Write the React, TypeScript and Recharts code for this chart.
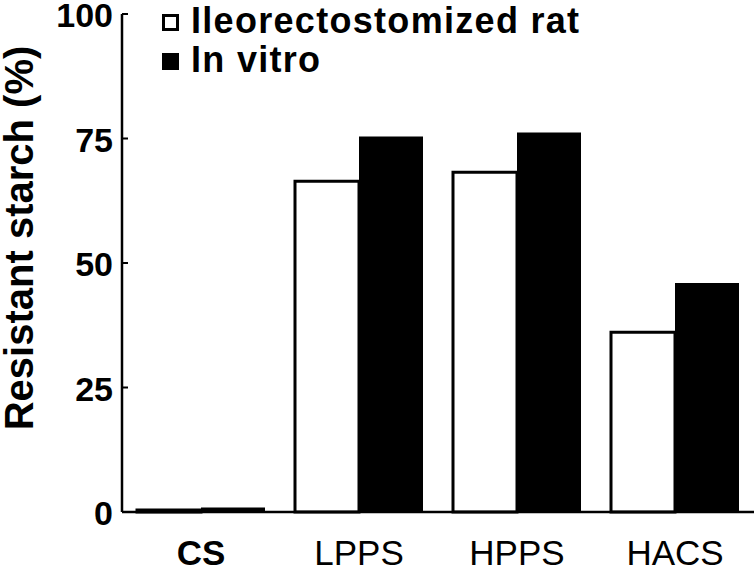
import { BarChart, Bar, XAxis, YAxis, Legend } from 'recharts';

const categories = ['CS', 'LPPS', 'HPPS', 'HACS'];
const boldCategories = ['CS'];
const ratValues = [0.4, 66.4, 68.2, 36.1];
const vitroValues = [0.9, 75.4, 76.2, 46.0];
const yTicks = [0, 25, 50, 75, 100];
const seriesNames = ['Ileorectostomized rat', 'In vitro'];

const data = categories.map((name, i) => ({
  name,
  rat: ratValues[i],
  vitro: vitroValues[i],
}));

const FONT = '"Liberation Sans", Arial, sans-serif';

function YTick(props: any) {
  const { x, y, payload } = props;
  return (
    <g>
      <line x1={x + 9} x2={x + 15} y1={y} y2={y} stroke="#000" strokeWidth={2} />
      <text
        x={x}
        y={y}
        dy="0.39em"
        textAnchor="end"
        fontFamily={FONT}
        fontWeight="bold"
        fontSize={34}
        fill="#000"
      >
        {payload.value}
      </text>
    </g>
  );
}

function XTick(props: any) {
  const { x, y, payload } = props;
  const bold = boldCategories.includes(payload.value);
  return (
    <text
      x={x}
      y={y}
      dy="0.71em"
      textAnchor="middle"
      fontFamily={FONT}
      fontWeight={bold ? 'bold' : 'normal'}
      fontSize={35}
      fill="#000"
    >
      {payload.value}
    </text>
  );
}

function YLabel(props: any) {
  const { viewBox } = props;
  const cx = viewBox.x + 33;
  const cy = viewBox.y + viewBox.height / 2 - 25;
  return (
    <text
      x={cx}
      y={cy}
      transform={`rotate(-90, ${cx}, ${cy})`}
      textAnchor="middle"
      fontFamily={FONT}
      fontWeight="bold"
      fontSize={40}
      fill="#000"
    >
      Resistant starch (%)
    </text>
  );
}

function LegendBox(props: any) {
  const { payload } = props;
  return (
    <div style={{ fontFamily: FONT, fontWeight: 'bold', fontSize: 36, lineHeight: '39px', letterSpacing: 1.3 }}>
      {(payload || []).map((entry: any) => (
        <div key={entry.value} style={{ display: 'flex', alignItems: 'center', whiteSpace: 'nowrap' }}>
          <span
            style={{
              display: 'inline-block',
              boxSizing: 'border-box',
              width: 17,
              height: 17,
              border: '3px solid #000',
              background: entry.payload?.fill ?? entry.color,
              marginRight: 12,
              marginTop: 4,
            }}
          />
          <span>{entry.value}</span>
        </div>
      ))}
    </div>
  );
}

export default function App() {
  return (
    <div style={{ position: 'absolute', left: 0, top: 0, background: '#fff' }}>
      <BarChart
        width={756}
        height={572}
        data={data}
        margin={{ top: 14, right: 2, bottom: 0, left: 0 }}
        barCategoryGap={15}
        barGap={0}
      >
        <XAxis
          dataKey="name"
          height={60}
          tickLine={false}
          tickSize={0}
          tickMargin={28}
          axisLine={{ stroke: '#000', strokeWidth: 2.5 }}
          tick={<XTick />}
          interval={0}
        />
        <YAxis
          width={122}
          domain={[0, 100]}
          ticks={yTicks}
          tickLine={false}
          tickSize={0}
          tickMargin={9}
          axisLine={{ stroke: '#000', strokeWidth: 2.5 }}
          tick={<YTick />}
          label={<YLabel />}
        />
        <Legend
          layout="vertical"
          verticalAlign="middle"
          align="center"
          content={<LegendBox />}
          wrapperStyle={{ top: 1, left: 162, width: 500 }}
        />
        <Bar
          dataKey="rat"
          name={seriesNames[0]}
          fill="#fff"
          stroke="#000"
          strokeWidth={3}
          isAnimationActive={false}
        />
        <Bar
          dataKey="vitro"
          name={seriesNames[1]}
          fill="#000"
          isAnimationActive={false}
        />
      </BarChart>
    </div>
  );
}
